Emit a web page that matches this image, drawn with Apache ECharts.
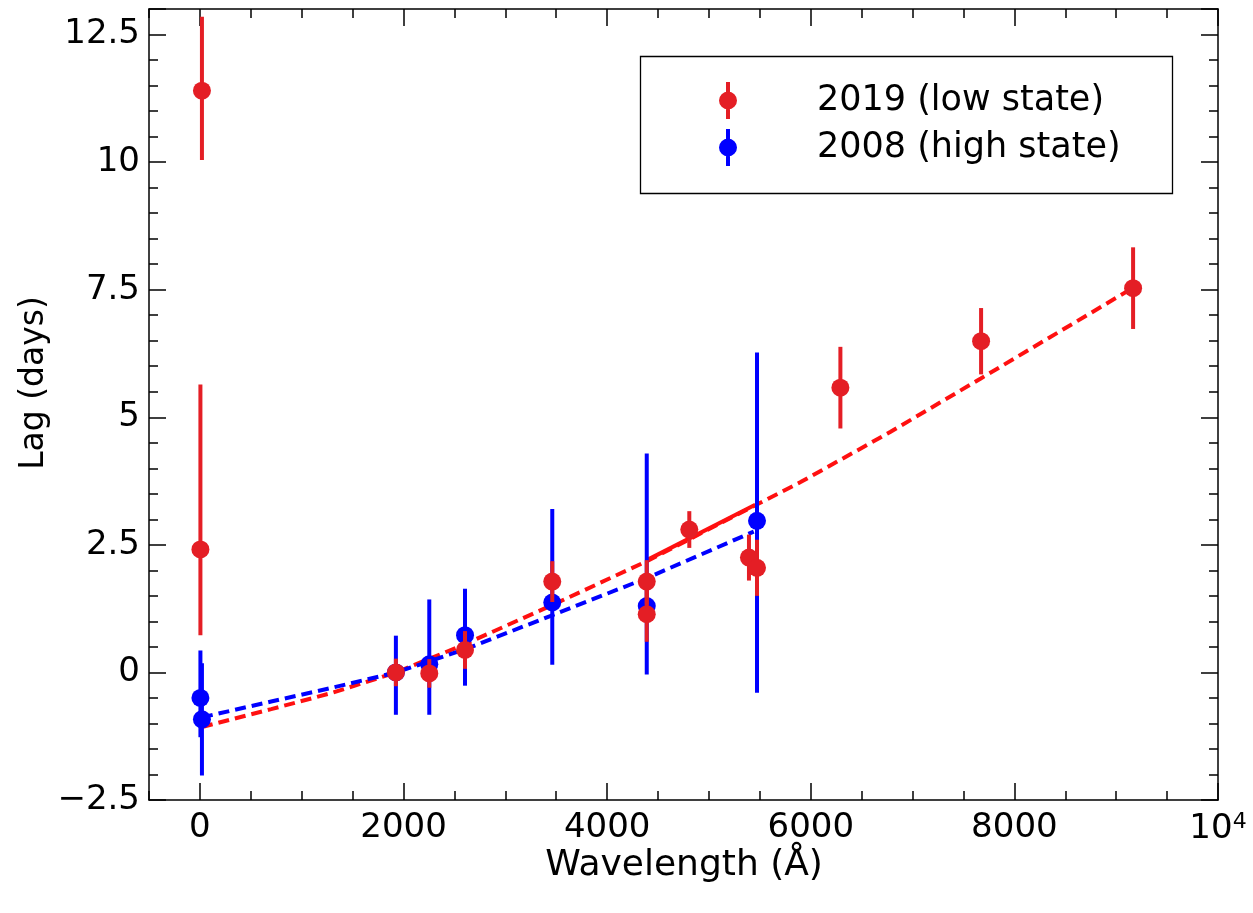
<!DOCTYPE html>
<html>
<head>
<meta charset="utf-8">
<script src="https://cdn.jsdelivr.net/npm/echarts@6/dist/echarts.min.js"></script>
<style>
  html, body { margin: 0; padding: 0; background: #fff; }
  #chart { width: 1253px; height: 913px; }
</style>
</head>
<body>
<div id="chart"></div>
<script>
// Continuum lags versus wavelength, two epochs.
// Wavelengths in Å, lags in days, asymmetric 1-sigma errors.
const redWave      = [20, 5, 1925, 2253, 2604, 3461, 4389, 4389, 4807, 5393, 5472, 6291, 7673, 9166];
const redLag       = [11.40, 2.41, 0.00, -0.02, 0.44, 1.78, 1.78, 1.14, 2.80, 2.25, 2.05, 5.58, 6.49, 7.53];
const redErrMinus  = [1.36, 1.68, 0.27, 0.28, 0.37, 0.40, 0.45, 0.54, 0.36, 0.45, 0.55, 0.80, 0.65, 0.80];
const redErrPlus   = [1.45, 3.23, 0.27, 0.28, 0.37, 0.40, 0.42, 0.54, 0.36, 0.45, 0.55, 0.80, 0.65, 0.80];

const blueWave     = [5, 20, 1925, 2253, 2604, 3461, 4389, 5472];
const blueLag      = [-0.50, -0.92, 0.00, 0.16, 0.73, 1.37, 1.30, 2.97];
const blueErrMinus = [0.77, 1.10, 0.83, 0.99, 0.99, 1.22, 1.34, 3.37];
const blueErrPlus  = [0.93, 1.10, 0.72, 1.27, 0.91, 1.83, 2.99, 3.30];

// Model curves
const redFitWave   = [20, 700, 1300, 1928, 2600, 3460, 4390, 5450, 5900, 6780, 7670, 9160];
const redFitLag    = [-1.07, -0.72, -0.40, 0.00, 0.55, 1.32, 2.18, 3.27, 3.73, 4.71, 5.76, 7.53];
const redSolidWave = [4390, 5450];
const redSolidLag  = [2.20, 3.28];
const blueFitWave  = [20, 700, 1300, 1928, 2600, 3460, 4390, 4910, 5440];
const blueFitLag   = [-0.88, -0.57, -0.30, 0.00, 0.45, 1.12, 1.85, 2.30, 2.76];

const seriesNames = ['2019 (low state)', '2008 (high state)'];
const xTickLabels = ['0', '2000', '4000', '6000', '8000'];
const yTickLabels = ['\u22122.5', '0', '2.5', '5', '7.5', '10', '12.5'];

const RED = '#e41e25';
const RED_LINE = '#ff1010';
const BLUE = '#0000ff';
const FONT = 'DejaVu Sans';

const X_MIN = -500, X_MAX = 10000;
const Y_MIN = -2.5, Y_MAX = 13;
const GRID_LEFT = 149, GRID_RIGHT = 35, GRID_TOP = 9, GRID_BOTTOM = 113;
const PLOT_W = 1253 - GRID_LEFT - GRID_RIGHT;
// second grid starts at wavelength 0 so its major ticks fall on multiples of 2000
const GRID2_LEFT = GRID_LEFT + (0 - X_MIN) / (X_MAX - X_MIN) * PLOT_W;

const pairs = (xs, ys) => xs.map((x, i) => [x, ys[i]]);

function errorBars(name, color, wave, lag, minus, plus, z) {
  return {
    type: 'custom', name: name, z: z, silent: true,
    xAxisIndex: 0, yAxisIndex: 0,
    data: wave.map((w, i) => [w, lag[i] - minus[i], lag[i] + plus[i]]),
    encode: { x: 0, y: [1, 2] },
    renderItem: function (params, api) {
      const lo = api.coord([api.value(0), api.value(1)]);
      const hi = api.coord([api.value(0), api.value(2)]);
      return {
        type: 'line',
        shape: { x1: lo[0], y1: lo[1], x2: hi[0], y2: hi[1] },
        style: { stroke: color, lineWidth: 4 }
      };
    }
  };
}

function fitLine(data, color, dashed, z) {
  return {
    type: 'line', data: data, z: z, silent: true,
    xAxisIndex: 0, yAxisIndex: 0,
    showSymbol: false, symbol: 'none',
    lineStyle: { color: color, width: 4, type: dashed ? [11, 6] : 'solid' }
  };
}

// error-bar marker used in the legend: a bar through a dot
const legendIcon = 'path://M7,0 L11,0 L11,37 L7,37 Z M0,18.5 A9,9 0 1,1 18,18.5 A9,9 0 1,1 0,18.5 Z';

const tickLabel = { fontFamily: FONT, fontSize: 34, color: '#000' };

const chart = echarts.init(document.getElementById('chart'), null, { renderer: 'canvas' });
chart.setOption({
  animation: false,
  backgroundColor: '#fff',
  grid: [
    { left: GRID_LEFT, right: GRID_RIGHT, top: GRID_TOP, bottom: GRID_BOTTOM, containLabel: false },
    { left: GRID2_LEFT, right: GRID_RIGHT, top: GRID_TOP, bottom: GRID_BOTTOM, containLabel: false }
  ],
  xAxis: [
    { // minor ticks, bottom frame line
      type: 'value', gridIndex: 0, position: 'bottom', min: X_MIN, max: X_MAX, interval: 500,
      axisLine: { show: true, onZero: false, lineStyle: { color: '#000', width: 1.5 } },
      axisTick: { show: true, inside: true, length: 9, lineStyle: { color: '#000', width: 1.5 } },
      axisLabel: { show: false }, splitLine: { show: false }
    },
    { // minor ticks, top frame line
      type: 'value', gridIndex: 0, position: 'top', min: X_MIN, max: X_MAX, interval: 500,
      axisLine: { show: true, onZero: false, lineStyle: { color: '#000', width: 1.5 } },
      axisTick: { show: true, inside: true, length: 9, lineStyle: { color: '#000', width: 1.5 } },
      axisLabel: { show: false }, splitLine: { show: false }
    },
    { // major ticks and labels
      type: 'value', gridIndex: 1, position: 'bottom', min: 0, max: X_MAX, interval: 2000,
      axisLine: { show: false, onZero: false },
      axisTick: { show: true, inside: true, length: 17, lineStyle: { color: '#000', width: 1.5 } },
      axisLabel: {
        show: true, margin: 11, color: '#000', fontFamily: FONT, fontSize: 34,
        formatter: function (v) {
          if (v === 10000) return '{b|10}{s|4}';
          const i = Math.round(v / 2000);
          return xTickLabels[i] !== undefined ? xTickLabels[i] : '';
        },
        rich: {
          b: { fontFamily: FONT, fontSize: 34, color: '#000' },
          s: { fontFamily: FONT, fontSize: 22, color: '#000', verticalAlign: 'top', padding: [0, 0, 14, 0] }
        }
      },
      splitLine: { show: false }
    },
    { // major ticks on the top edge
      type: 'value', gridIndex: 1, position: 'top', min: 0, max: X_MAX, interval: 2000,
      axisLine: { show: false, onZero: false },
      axisTick: { show: true, inside: true, length: 17, lineStyle: { color: '#000', width: 1.5 } },
      axisLabel: { show: false }, splitLine: { show: false }
    }
  ],
  yAxis: [
    {
      type: 'value', gridIndex: 0, position: 'left', min: Y_MIN, max: Y_MAX, interval: 2.5,
      axisLine: { show: true, onZero: false, lineStyle: { color: '#000', width: 1.5 } },
      axisTick: { show: true, inside: true, length: 17, lineStyle: { color: '#000', width: 1.5 } },
      minorTick: { show: true, splitNumber: 5, length: 9, lineStyle: { color: '#000', width: 1.5 } },
      axisLabel: Object.assign({
        show: true, margin: 9,
        formatter: function (v) {
          const i = Math.round((v - Y_MIN) / 2.5);
          if (Math.abs(Y_MIN + i * 2.5 - v) > 1e-6) return '';
          return yTickLabels[i] !== undefined ? yTickLabels[i] : '';
        }
      }, tickLabel),
      splitLine: { show: false }
    },
    {
      type: 'value', gridIndex: 0, position: 'right', min: Y_MIN, max: Y_MAX, interval: 2.5,
      axisLine: { show: true, onZero: false, lineStyle: { color: '#000', width: 1.5 } },
      axisTick: { show: true, inside: true, length: 17, lineStyle: { color: '#000', width: 1.5 } },
      minorTick: { show: true, splitNumber: 5, length: 9, lineStyle: { color: '#000', width: 1.5 } },
      axisLabel: { show: false }, splitLine: { show: false }
    },
    { type: 'value', gridIndex: 1, min: Y_MIN, max: Y_MAX, show: false }
  ],
  legend: {
    show: true, orient: 'vertical', left: 719, top: 82, padding: 0,
    itemWidth: 18, itemHeight: 37, itemGap: 10,
    selectedMode: false,
    textStyle: { fontFamily: FONT, fontSize: 35, color: '#000', padding: [0, 0, 0, 75] },
    data: [
      { name: seriesNames[0], icon: legendIcon, itemStyle: { color: RED } },
      { name: seriesNames[1], icon: legendIcon, itemStyle: { color: BLUE } }
    ]
  },
  graphic: [
    { type: 'rect', z: 100, silent: true,
      shape: { x: 640.5, y: 56.5, width: 532, height: 137 },
      style: { fill: 'rgba(0,0,0,0)', stroke: '#000', lineWidth: 1.3 } },
    { type: 'text', silent: true, x: 684, y: 866,
      style: { text: 'Wavelength (Å)', fontFamily: FONT, fontSize: 36, fill: '#000',
               align: 'center', verticalAlign: 'middle' } },
    { type: 'text', silent: true, x: 34, y: 383, rotation: Math.PI / 2,
      style: { text: 'Lag (days)', fontFamily: FONT, fontSize: 33, fill: '#000',
               align: 'center', verticalAlign: 'middle' } }
  ],
  series: [
    fitLine(pairs(redFitWave, redFitLag), RED_LINE, true, 1),
    fitLine(pairs(redSolidWave, redSolidLag), RED_LINE, false, 1),
    fitLine(pairs(blueFitWave, blueFitLag), BLUE, true, 1),
    errorBars('blueErr', BLUE, blueWave, blueLag, blueErrMinus, blueErrPlus, 2),
    {
      type: 'scatter', name: seriesNames[1], z: 3, xAxisIndex: 0, yAxisIndex: 0,
      symbol: 'circle', symbolSize: 18, itemStyle: { color: BLUE, opacity: 1 },
      data: pairs(blueWave, blueLag)
    },
    errorBars('redErr', RED, redWave, redLag, redErrMinus, redErrPlus, 4),
    {
      type: 'scatter', name: seriesNames[0], z: 5, xAxisIndex: 0, yAxisIndex: 0,
      symbol: 'circle', symbolSize: 18, itemStyle: { color: RED, opacity: 1 },
      data: pairs(redWave, redLag)
    }
  ]
});
</script>
</body>
</html>
